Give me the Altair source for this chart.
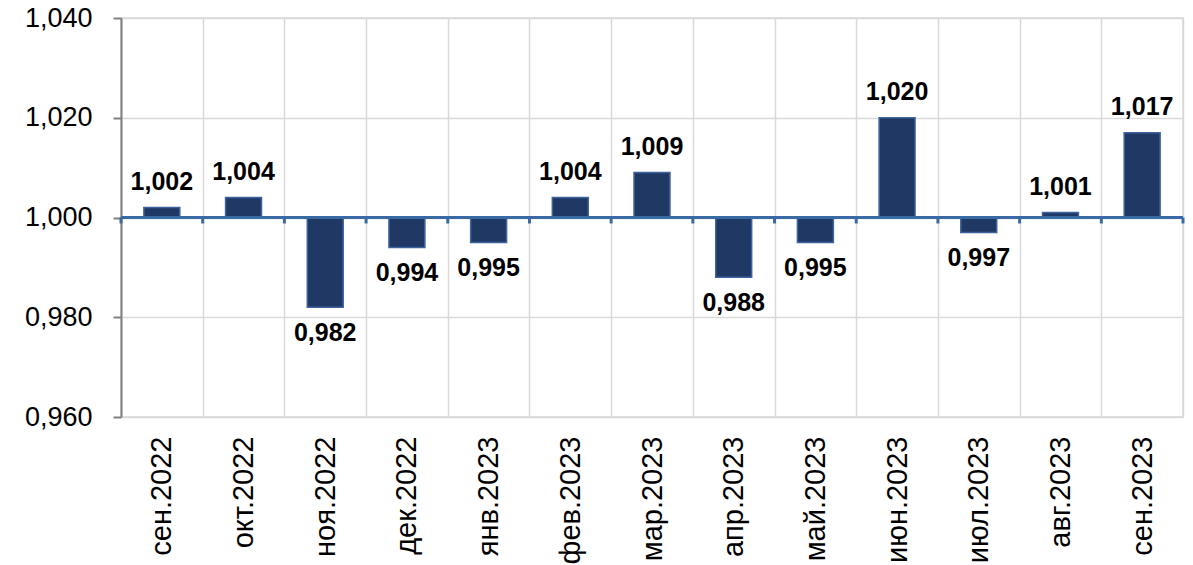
import altair as alt
import pandas as pd

months = ["сен.2022", "окт.2022", "ноя.2022", "дек.2022", "янв.2023", "фев.2023",
          "мар.2023", "апр.2023", "май.2023", "июн.2023", "июл.2023", "авг.2023", "сен.2023"]
values = [1.002, 1.004, 0.982, 0.994, 0.995, 1.004, 1.009, 0.988, 0.995, 1.020, 0.997, 1.001, 1.017]
y_ticks = [0.960, 0.980, 1.000, 1.020, 1.040]

df = pd.DataFrame({"month": months, "value": values})
df["base"] = 1.0
df["label"] = [f"{v:.3f}".replace(".", ",") for v in values]
df["pos"] = df["value"] >= 1.0

xscale = alt.Scale(domain=months, paddingInner=0, paddingOuter=0)
yscale = alt.Scale(domain=[0.96, 1.04], nice=False, zero=False)

x_enc = alt.X("month:N", sort=months, scale=xscale, title=None,
              axis=alt.Axis(labelAngle=-90, labelAlign="right", labelBaseline="middle",
                            labelFont="Liberation Sans", labelFontSize=29, labelColor="#000000",
                            labelPadding=19, ticks=False, domain=False, tickBand="extent",
                            grid=True, gridColor="#d9d9d9", gridWidth=1.5))

bars = alt.Chart(df).mark_bar(width=alt.RelativeBandSize(0.44), color="#203864",
                              stroke="#3e64a0", strokeWidth=1.5).encode(
    x=x_enc,
    y=alt.Y("value:Q", scale=yscale, title=None,
            axis=alt.Axis(values=y_ticks, labelExpr="replace(format(datum.value, '.3f'), '.', ',')",
                          labelFont="Liberation Sans", labelFontSize=27, labelColor="#000000",
                          labelPadding=21, tickSize=8, tickColor="#808080", tickWidth=2,
                          domainColor="#808080", domainWidth=2,
                          grid=True, gridColor="#d9d9d9", gridWidth=1.5)),
    y2="base:Q",
)

labels_pos = alt.Chart(df[df["pos"]]).mark_text(
    font="Liberation Sans", fontSize=25, fontWeight="bold", color="#000000",
    baseline="bottom", dy=-13).encode(
    x=alt.X("month:N", sort=months, scale=xscale),
    y=alt.Y("value:Q", scale=yscale),
    text="label:N",
)

labels_neg = alt.Chart(df[~df["pos"]]).mark_text(
    font="Liberation Sans", fontSize=25, fontWeight="bold", color="#000000",
    baseline="top", dy=14).encode(
    x=alt.X("month:N", sort=months, scale=xscale),
    y=alt.Y("value:Q", scale=yscale),
    text="label:N",
)

base_line = alt.Chart(df).mark_rule(color="#3a6aa3", strokeWidth=3).encode(
    y=alt.datum(1.0, scale=yscale),
    x=alt.value(0), x2=alt.value(1062),
)

ticks_df = pd.DataFrame({"month": months})
ticks_start = alt.Chart(ticks_df).mark_rule(color="#3a6aa3", strokeWidth=3).encode(
    x=alt.X("month:N", sort=months, scale=xscale, bandPosition=0),
    y=alt.datum(1.0, scale=yscale),
    y2=alt.datum(0.9988),
)
ticks_end = alt.Chart(ticks_df.iloc[-1:]).mark_rule(color="#3a6aa3", strokeWidth=3).encode(
    x=alt.X("month:N", sort=months, scale=xscale, bandPosition=1),
    y=alt.datum(1.0, scale=yscale),
    y2=alt.datum(0.9988),
)

chart = alt.layer(bars, base_line, ticks_start, ticks_end, labels_pos, labels_neg).properties(
    width=1062, height=399,
    autosize=alt.AutoSizeParams(type="none"),
    padding={"left": 121, "top": 18, "right": 10, "bottom": 148},
    background="#ffffff",
).configure_view(stroke="#d9d9d9", strokeWidth=1.5)

chart.save("out.html", embed_options={"renderer": "svg", "actions": False})
